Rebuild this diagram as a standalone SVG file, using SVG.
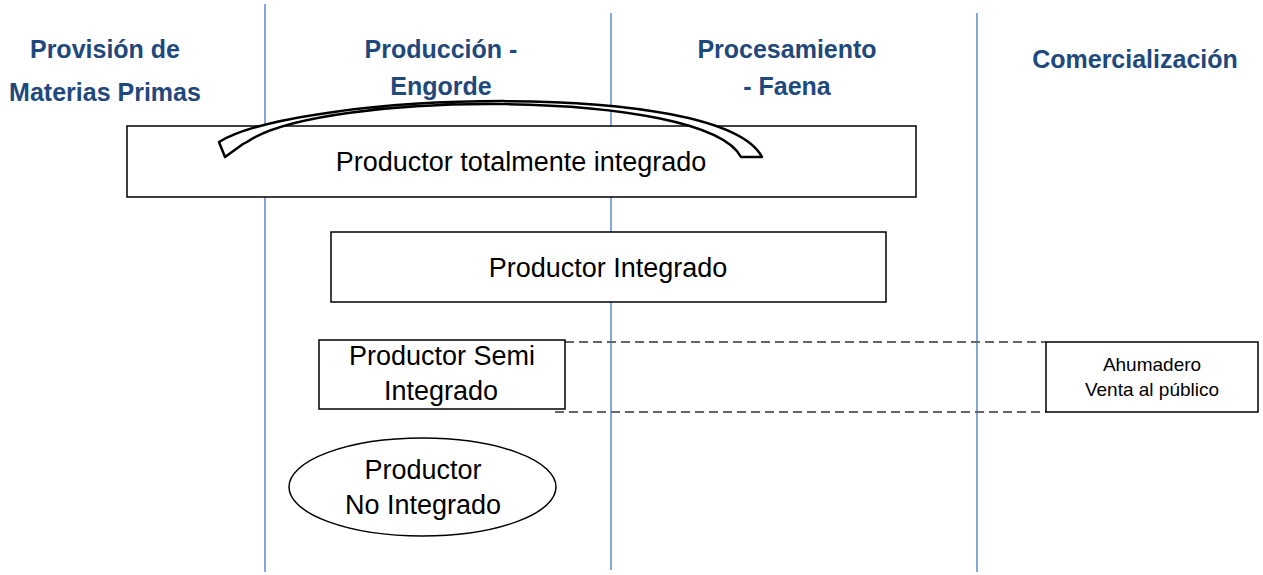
<svg xmlns="http://www.w3.org/2000/svg" width="1263" height="575" viewBox="0 0 1263 575">
<style>
.lane{stroke:#5B8BD0;stroke-width:1.5;fill:none}
.hdr{font-family:"Liberation Sans",Arial,sans-serif;font-weight:bold;font-size:25px;fill:#1F497D;text-anchor:middle}
.box{fill:#fff;stroke:#000;stroke-width:1.5}
.lbl{font-family:"Liberation Sans",Arial,sans-serif;font-size:27px;fill:#000;text-anchor:middle}
.sm{font-family:"Liberation Sans",Arial,sans-serif;font-size:19px;fill:#000;text-anchor:middle}
.dash{stroke:#666;stroke-width:2;stroke-dasharray:9,5;fill:none}
</style>
<rect width="1263" height="575" fill="#fff"/>
<g id="lanes">
<line class="lane" x1="265" y1="4" x2="265" y2="572"/>
<line class="lane" x1="611" y1="13" x2="611" y2="570"/>
<line class="lane" x1="977" y1="13" x2="977" y2="572"/>
</g>
<g id="headers">
<text class="hdr" x="105" y="58">Provisión de</text>
<text class="hdr" x="105" y="101">Materias Primas</text>
<text class="hdr" x="441" y="58">Producción -</text>
<text class="hdr" x="441" y="95">Engorde</text>
<text class="hdr" x="787" y="58">Procesamiento</text>
<text class="hdr" x="787" y="95">- Faena</text>
<text class="hdr" x="1135" y="68">Comercialización</text>
</g>
<g id="connectors">
<path class="dash" d="M565,342 H1046"/>
<path class="dash" d="M555,412 H1046"/>
</g>
<g id="node-total">
<rect class="box" x="127" y="126" width="789" height="71"/>
<text class="lbl" x="521" y="171">Productor totalmente integrado</text>
</g>
<g id="node-integrado">
<rect class="box" x="331" y="232" width="555" height="70"/>
<text class="lbl" x="608" y="277">Productor Integrado</text>
</g>
<g id="node-semi">
<rect class="box" x="319" y="340" width="246" height="69"/>
<text class="lbl" x="442" y="365">Productor Semi</text>
<text class="lbl" x="441" y="400">Integrado</text>
</g>
<g id="node-no">
<ellipse class="box" cx="422.5" cy="487" rx="133.5" ry="49"/>
<text class="lbl" x="423" y="479">Productor</text>
<text class="lbl" x="423" y="514">No Integrado</text>
</g>
<g id="node-ahumadero">
<rect class="box" x="1046" y="342" width="212" height="70"/>
<text class="sm" x="1152" y="371">Ahumadero</text>
<text class="sm" x="1152" y="396">Venta al público</text>
</g>
<g id="curved-arrow">
<path d="M219,142 C300,92 720,78 762,157 L741,157 C705,88 320,90 247,142 L243,144 L225,157 Z" fill="#fff" stroke="#000" stroke-width="2.5" stroke-linejoin="round"/>
</g>
</svg>
